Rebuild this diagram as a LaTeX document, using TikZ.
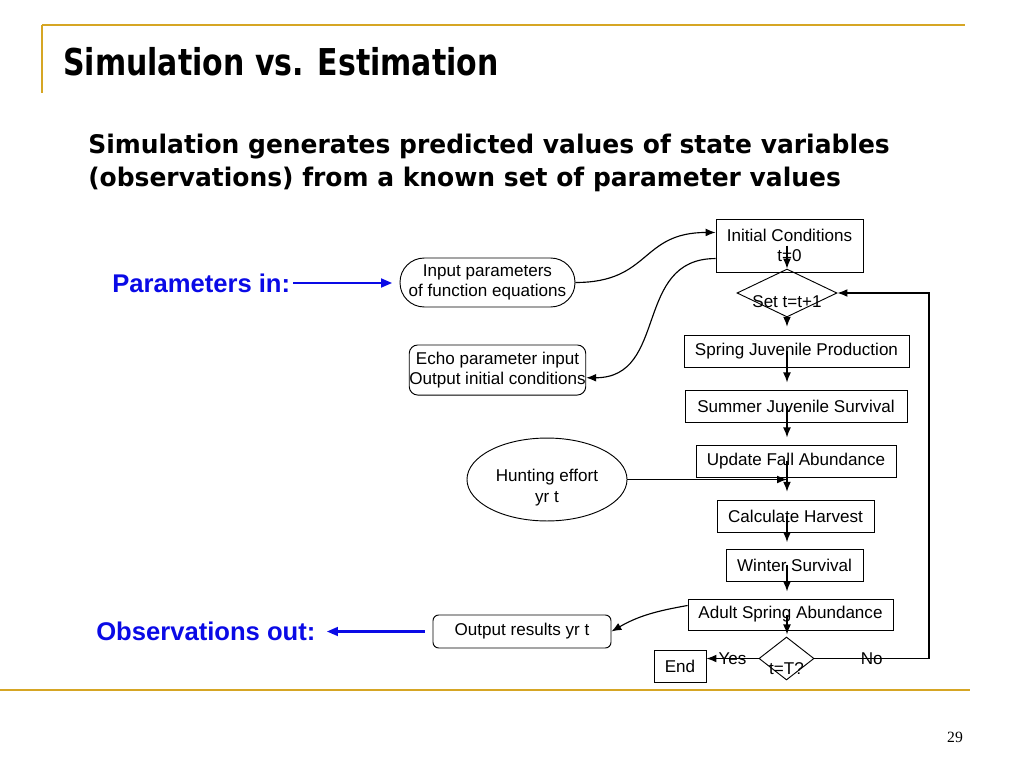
\documentclass[tikz,border=0pt]{standalone}
\usepackage{fontspec}
\setmainfont{Liberation Sans}
\newfontfamily\headfont[FakeStretch=0.81]{DejaVu Sans}
\newfontfamily\leadfont[FakeStretch=0.975]{DejaVu Sans}
\newfontfamily\pagefont{Liberation Serif}
\usetikzlibrary{arrows.meta, shapes.geometric}
\definecolor{gold}{RGB}{214,166,36}
\definecolor{labelblue}{RGB}{10,10,230}
\begin{document}
\begin{tikzpicture}[x=0.703pt, y=-0.703pt, inner sep=0mm,
		boxstyle/.style={draw, rectangle, line width=0.65pt, font=\fontsize{12}{14.5}\selectfont, align=center},
		roundstyle/.style={boxstyle, rounded corners=#1},
		decisionstyle/.style={draw, diamond, line width=0.65pt, font=\fontsize{12}{14.5}\selectfont},
		edgestyle/.style={line width=0.8pt, font=\fontsize{12}{14.5}\selectfont, -{Latex[length=7pt, width=5.5pt]}},
		bluestyle/.style={labelblue, line width=2pt, -{Triangle[length=8pt, width=6pt]}},
		labelstyle/.style={labelblue, font=\bfseries\fontsize{18}{21}\selectfont, anchor=west},
		goldstyle/.style={gold, line width=2.1pt}]
		\useasboundingbox (0,0) rectangle (1024,768);

		\draw [goldstyle] (42,25) -- (965,25);
		\draw [goldstyle, line width=1.4pt] (42,25) -- (42,93);
		\draw [goldstyle] (0,690) -- (970,690);

		\node [anchor=base west, font=\headfont\bfseries\fontsize{26}{30}\selectfont] (title) at (63,75) {Simulation vs. Estimation};
		\node [anchor=base west, font=\leadfont\bfseries\fontsize{18}{22}\selectfont] (leadone) at (88,153) {Simulation generates predicted values of state variables};
		\node [anchor=base west, font=\leadfont\bfseries\fontsize{18}{22}\selectfont] (leadtwo) at (88,186) {(observations) from a known set of parameter values};
		\node [font=\pagefont\fontsize{11}{13}\selectfont] (pagenum) at (955,737) {29};

		\node [labelstyle] (parin) at (112,283) {Parameters in:};
		\node [labelstyle] (obsout) at (96,631) {Observations out:};

		\node [boxstyle, minimum width=103.3pt, minimum height=37.3pt] (ic) at (789.5,245.5) {Initial Conditions\\t=0};
		\node [decisionstyle, minimum width=70.3pt, minimum height=33.7pt] (set) at (787,293) {\raisebox{-10.5pt}[0pt][0pt]{\makebox[0pt]{Set t=t+1}}};
		\node [boxstyle, minimum width=158.2pt, minimum height=22.5pt] (spring) at (796.5,351) {Spring Juvenile Production};
		\node [boxstyle, minimum width=156.1pt, minimum height=22.5pt] (summer) at (796,406) {Summer Juvenile Survival};
		\node [boxstyle, minimum width=140.6pt, minimum height=22.5pt] (fall) at (796,461) {Update Fall Abundance};
		\node [boxstyle, minimum width=110.4pt, minimum height=22.5pt] (harvest) at (795.5,516) {Calculate Harvest};
		\node [boxstyle, minimum width=96.3pt, minimum height=22.5pt] (winter) at (794.5,565) {Winter Survival};
		\node [boxstyle, minimum width=144.1pt, minimum height=21.8pt] (adult) at (790.5,614.5) {Adult Spring Abundance};
		\node [decisionstyle, minimum width=38.7pt, minimum height=30.2pt] (test) at (786.5,658.5) {\raisebox{-11pt}[0pt][0pt]{\makebox[0pt]{t=T?}}};
		\node [boxstyle, minimum width=36.6pt, minimum height=22.5pt] (end) at (680,666) {End};

		\node [roundstyle=17pt, minimum width=123pt, minimum height=34.4pt] (input) at (487.5,282.5) {Input parameters\\of function equations};
		\node [roundstyle=6pt, minimum width=120.2pt, minimum height=35.2pt] (echo) at (497.5,370) {Echo parameter input\\Output initial conditions};
		\node [draw, ellipse, line width=0.65pt, minimum width=112.5pt, minimum height=58.3pt,
			label={[align=center, font=\fontsize{12}{14.5}\selectfont, yshift=-5.6pt]center:Hunting effort\\yr t}] (hunt) at (547,479.5) {};
		\node [roundstyle=4pt, minimum width=125.1pt, minimum height=23.2pt] (output) at (522,631.5) {Output results yr t};
		\coordinate (back) at (929,0);

		\foreach \a/\b/\g in {ic.center/set/0pt, set.south/spring/5.5pt, spring.center/summer/5pt, summer.center/fall/5pt, fall.center/harvest/5.5pt, harvest.center/winter/4.5pt, winter.center/adult/5pt, adult.center/test/1.5pt}
			\draw [edgestyle, shorten >=\g] (set |- \a) -- (set |- \b.north);

		\draw [edgestyle] (hunt) -- (hunt -| set);
		\draw [edgestyle] (test.west) -- node {Yes} (test.west -| end.east);
		\draw [edgestyle] (test.east) -- node {No} (test.east -| back) |- (set.east);
		\draw [edgestyle] (input.east) to [out=0, in=180, looseness=1.3] (ic.170);
		\draw [edgestyle] (ic.190) to [out=180, in=0, looseness=1.2] (echo.355);
		\draw [edgestyle] (adult.175) to [out=190, in=30] (output.east);

		\draw [bluestyle, shorten <=2pt, shorten >=5pt] (parin.east) -- (parin.east -| input.west);
		\draw [bluestyle, shorten <=5.6pt, shorten >=7.7pt] (output.west) -- (output.west -| obsout.east);
\end{tikzpicture}
\end{document}
